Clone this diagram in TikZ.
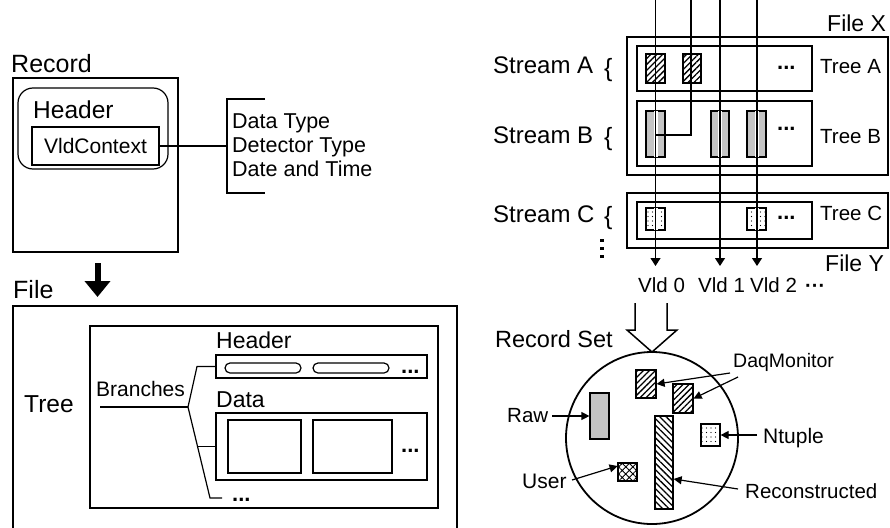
\documentclass[tikz,border=0pt]{standalone}
\usepackage{fontspec}
\setmainfont{Liberation Sans}
\usetikzlibrary{patterns.meta,arrows.meta,calc}
\begin{document}
\begin{tikzpicture}[x=1pt,y=-1pt,
  outer/.style={draw,line width=2.2pt,inner sep=0pt},
  thin/.style={draw,line width=1.2pt,inner sep=0pt},
  lbl/.style={inner sep=0pt,anchor=base west},
  fs/.style={font=\fontsize{#1}{#1}\selectfont},
  dts/.style={inner sep=0pt,anchor=base west,font=\fontsize{22}{22}\selectfont\bfseries},
  hatchA/.style={pattern={Lines[angle=45,distance=4.2pt,line width=1.3pt]}},
  hatchB/.style={pattern={Lines[angle=-45,distance=4.5pt,line width=1.3pt]}},
  densedots/.style={pattern={Dots[distance=2pt,radius=0.6pt]}},
  sparsedots/.style={pattern={Dots[distance=4.5pt,radius=0.7pt]}},
  xhatch/.style={pattern={Hatch[angle=45,distance=5pt,line width=0.9pt]}},
  ln/.style={line width=1.2pt},
  vtip/.style={line width=1.2pt,-{Triangle[width=10pt,length=8pt]}},
  stip/.style={line width=1.2pt,-{Triangle[width=8pt,length=8pt]}},
]
\useasboundingbox (0,0) rectangle (890,527);

% ---------------- Record ----------------
\node[lbl,fs=25] (trec) at (11,72) {Record};
\node[outer,minimum width=165pt,minimum height=174pt] (rec) at (95.5,165) {};
\node[thin,rounded corners=15pt,minimum width=150pt,minimum height=81pt] (hdr) at (93,128.5) {};
\node[lbl,fs=24.5] (thdr) at (33,118) {Header};
\node[thin,minimum width=127pt,minimum height=38pt,fs=21] (vc) at (95.5,146) {VldContext};
\coordinate (br1) at (265,99);
\coordinate (br2) at (227,99);
\coordinate (br3) at (227,193);
\coordinate (br4) at (265,193);
\coordinate (brm) at (227,146);
\draw[ln] (br1) -- (br2) -- (br3) -- (br4);
\draw[ln] (vc.east) -- (brm);
\node[lbl,fs=21.5] (dt1) at (232,128) {Data Type};
\node[lbl,fs=21.5] (dt2) at (232,152) {Detector Type};
\node[lbl,fs=21.5] (dt3) at (232,176) {Date and Time};

% thick arrow
\coordinate (ar1) at (97.5,263);
\coordinate (ar2) at (97.5,297);
\draw[line width=6pt,-{Triangle[width=25pt,length=16pt]}] (ar1) -- (ar2);

% ---------------- File ----------------
\node[lbl,fs=25] (tfile) at (13,298) {File};
\coordinate (f1) at (13,535);
\coordinate (f2) at (13,306);
\coordinate (f3) at (457,306);
\coordinate (f4) at (457,535);
\draw[line width=2.2pt] (f1) -- (f2) -- (f3) -- (f4);
\node[lbl,fs=24.5] (ttree) at (24,412) {Tree};
\node[outer,minimum width=348pt,minimum height=182pt] (tree) at (264,417) {};
\node[lbl,fs=21] (tbr) at (96,396) {Branches};
\coordinate (b0) at (100,407);
\coordinate (bf) at (188,407);
\draw[line width=1.8pt] (b0) -- (bf);

\node[lbl,fs=23] (thb) at (216,348) {Header};
\node[thin,minimum width=211pt,minimum height=23pt] (hbox) at (321.5,366.5) {};
\node[thin,rounded corners=5pt,minimum width=76pt,minimum height=10pt] (p1) at (263,368) {};
\node[thin,rounded corners=5pt,minimum width=76pt,minimum height=10pt] (p2) at (351,368) {};
\node[dts] (hd) at (401,373) {...};

\node[lbl,fs=23] (tdata) at (216,407) {Data};
\node[thin,minimum width=211pt,minimum height=67pt] (dbox) at (321.5,446.5) {};
\node[thin,minimum width=73pt,minimum height=53pt] (d1) at (264.5,446.5) {};
\node[thin,minimum width=79pt,minimum height=53pt] (d2) at (352.5,446.5) {};
\node[dts] (dd) at (401,452) {...};
\node[dts] (bd) at (232,501) {...};

\coordinate (bh) at (197,366.5);
\coordinate (bm) at (197.5,446.5);
\coordinate (bl) at (210,498);
\coordinate (be) at (222,498);
\draw[ln] (bf) -- (bh) -- (hbox.west);
\draw[ln] (bf) -- (bl) -- (be);
\draw[ln] (bm) -- (dbox.west);

% ---------------- Streams ----------------
\node[lbl,fs=23] (tfx) at (827,32) {File X};
\node[lbl,fs=23] (tfy) at (825,271) {File Y};
\node[lbl,fs=24] (sa) at (493,74) {Stream A};
\node[lbl,fs=24] (sb) at (493,143) {Stream B};
\node[lbl,fs=24] (sc) at (493,222) {Stream C};
\node[lbl,fs=25] (sab) at (604,76) {\{};
\node[lbl,fs=25] (sbb) at (604,145) {\{};
\node[lbl,fs=25] (scb) at (604,224) {\{};
\node[lbl,fs=20.5] (ta) at (820,73) {Tree A};
\node[lbl,fs=20.5] (tb) at (820,143) {Tree B};
\node[lbl,fs=20.5] (tc) at (820,220) {Tree C};

% pattern boxes
\node[thin,hatchA,minimum width=19pt,minimum height=29pt] (a1) at (655.5,68.5) {};
\node[thin,hatchA,minimum width=18pt,minimum height=29pt] (a2) at (692,68.5) {};
\node[thin,densedots,minimum width=19pt,minimum height=46pt] (bb1) at (655.5,134) {};
\node[thin,densedots,minimum width=18pt,minimum height=46pt] (bb2) at (720,134) {};
\node[thin,densedots,minimum width=19pt,minimum height=46pt] (bb3) at (756.5,134) {};
\node[thin,sparsedots,minimum width=19pt,minimum height=22pt] (c1) at (655.5,219) {};
\node[thin,sparsedots,minimum width=19pt,minimum height=22pt] (c2) at (756.5,219) {};

% halos
\draw[white,line width=4pt] (bb1.north) -- (bb1.south);
\draw[white,line width=4pt] (bb2.north) -- (bb2.south);
\draw[white,line width=4pt] (bb3.north) -- (bb3.south);
\draw[white,line width=4pt] (c1.north) -- (c1.south);
\draw[white,line width=4pt] (c2.north) -- (c2.south);
\draw[thin,fill=none] (bb1.north west) rectangle (bb1.south east);
\draw[thin,fill=none] (bb2.north west) rectangle (bb2.south east);
\draw[thin,fill=none] (bb3.north west) rectangle (bb3.south east);
\draw[thin,fill=none] (c1.north west) rectangle (c1.south east);
\draw[thin,fill=none] (c2.north west) rectangle (c2.south east);

\node[outer,minimum width=261pt,minimum height=138pt] (fx) at (757.5,106) {};
\node[thin,minimum width=175pt,minimum height=45pt] (tra) at (724.5,68.5) {};
\node[thin,minimum width=175pt,minimum height=65pt] (trb) at (724.5,133.5) {};
\node[outer,minimum width=261pt,minimum height=55pt] (fy) at (757.5,220.5) {};
\node[thin,minimum width=175pt,minimum height=37pt] (trc) at (724.5,220.5) {};

\node[dts] (da) at (777,70) {...};
\node[dts] (db) at (777,130) {...};
\node[dts] (dc) at (777,219) {...};

\fill (600,238.5) rectangle (603.5,242);
\fill (600,246.5) rectangle (603.5,250);
\fill (600,254.5) rectangle (603.5,258);

% Vld labels
\node[lbl,fs=20.5] (v0) at (638,292) {Vld 0};
\node[lbl,fs=20.5] (v1) at (698,292) {Vld 1};
\node[lbl,fs=20.5] (v2) at (750,292) {Vld 2};
\node[lbl,font=\fontsize{20}{20}\selectfont\bfseries] (v3) at (805,292) {···};

\coordinate (l0t) at (655.5,0);
\coordinate (l0b) at (655.5,266);
\coordinate (l1t) at (691,0);
\coordinate (l1c) at (691,135);
\coordinate (l1e) at (655.5,135);
\coordinate (l2t) at (720,0);
\coordinate (l2b) at (720,266);
\coordinate (l3t) at (757,0);
\coordinate (l3b) at (757,266);
\draw[vtip] (l0t) -- (l0b);
\draw[ln] (l1t) -- (l1c) -- (l1e);
\draw[vtip] (l2t) -- (l2b);
\draw[vtip] (l3t) -- (l3b);

% ---------------- Record Set ----------------
\node[lbl,fs=23.5] (trs) at (495,347) {Record Set};
\coordinate (h1) at (635,303);
\coordinate (h2) at (635,330);
\coordinate (h3) at (627,330);
\coordinate (h4) at (652,352);
\coordinate (h5) at (677,330);
\coordinate (h6) at (667,330);
\coordinate (h7) at (667,303);
\draw[line width=1.5pt,line join=miter] (h1) -- (h2) -- (h3) -- (h4) -- (h5) -- (h6) -- (h7);
\node[draw,circle,line width=1.8pt,minimum size=172pt,inner sep=0pt] (rs) at (652,438) {};

\node[thin,hatchA,minimum width=20pt,minimum height=28pt] (dq1) at (646,384) {};
\node[thin,hatchA,minimum width=20pt,minimum height=29pt] (dq2) at (683,398.5) {};
\node[thin,densedots,minimum width=19pt,minimum height=46pt] (raw) at (599.5,416) {};
\node[thin,hatchB,minimum width=18pt,minimum height=93pt] (rco) at (664,462.5) {};
\node[thin,sparsedots,minimum width=19pt,minimum height=22pt] (ntp) at (710.5,435) {};
\node[thin,xhatch,minimum width=19pt,minimum height=18pt] (usr) at (627.5,472) {};

\node[lbl,fs=19.5] (tdq) at (733,367) {DaqMonitor};
\node[lbl,fs=20.5] (traw) at (507,422) {Raw};
\node[lbl,fs=21] (tnt) at (763,443) {Ntuple};
\node[lbl,fs=21] (tus) at (522,488) {User};
\node[lbl,fs=20.5] (trc) at (745,498) {Reconstructed};

\coordinate (q1) at (730,373);
\coordinate (q2) at (738,377);
\coordinate (q3) at (552,416);
\coordinate (q4) at (757,435);
\coordinate (q5) at (572,480);
\coordinate (q6) at (738,489);
\draw[stip] (q1) -- (dq1.east);
\draw[stip] (q2) -- (dq2.east);
\draw[stip] (q3) -- (raw.west);
\draw[stip] (q4) -- (ntp.east);
\draw[stip] (q5) -- ([yshift=6pt]usr.west);
\draw[stip] (q6) -- ([yshift=-16.5pt]rco.east);
\end{tikzpicture}
\end{document}
